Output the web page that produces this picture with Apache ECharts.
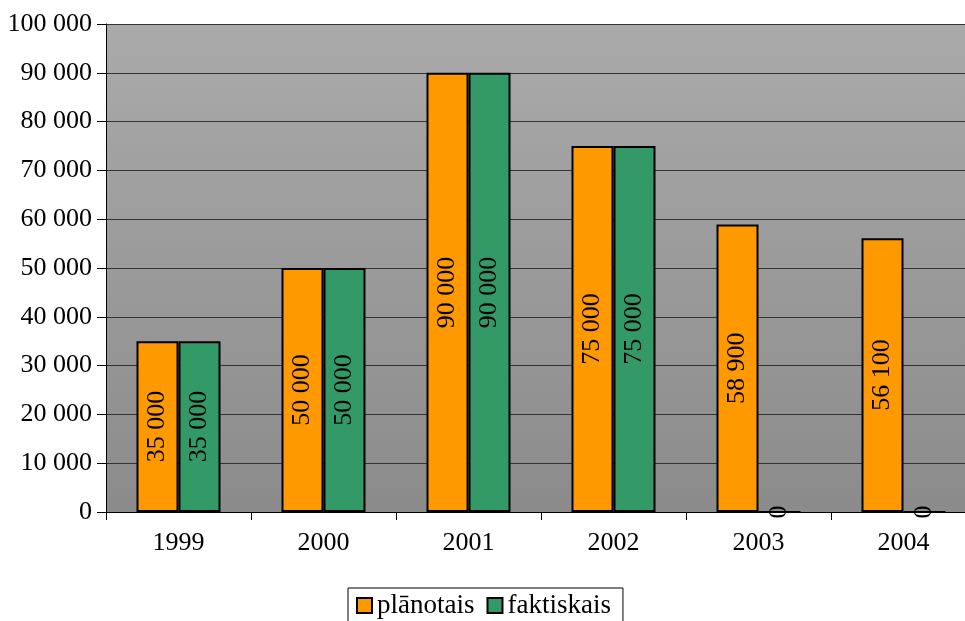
<!DOCTYPE html>
<html>
<head>
<meta charset="utf-8">
<script src="https://cdn.jsdelivr.net/npm/echarts@6/dist/echarts.min.js"></script>
<style>html,body{margin:0;padding:0;background:#fff}#c{width:965px;height:621px}</style>
</head>
<body>
<div id="c"></div>
<script>
var categories = ['1999', '2000', '2001', '2002', '2003', '2004'];
var planotais = [35000, 50000, 90000, 75000, 58900, 56100];
var faktiskais = [35000, 50000, 90000, 75000, 0, 0];
var seriesNames = ['plānotais', 'faktiskais'];

function fmt(v) {
  return String(v).replace(/\B(?=(\d{3})+(?!\d))/g, ' ');
}
var FONT = 'Liberation Serif';
var FS = 26;
var chart = echarts.init(document.getElementById('c'), null, {renderer: 'canvas'});
var labelCfg = {
  show: true, position: 'inside', rotate: 90, color: '#000',
  fontFamily: FONT, fontSize: FS,
  formatter: function (p) { return fmt(p.value); }
};
chart.setOption({
  animation: false,
  backgroundColor: '#fff',
  textStyle: {fontFamily: FONT},
  grid: {
    left: 106, top: 24, width: 870, bottom: 109,
    outerBoundsMode: 'none', containLabel: false,
    show: true, borderWidth: 0,
    backgroundColor: {
      type: 'linear', x: 0, y: 0, x2: 0, y2: 1,
      colorStops: [{offset: 0, color: '#aaaaaa'}, {offset: 1, color: '#8b8b8b'}]
    }
  },
  legend: {
    data: seriesNames,
    top: 588, left: 348,
    icon: 'rect', itemWidth: 15, itemHeight: 15, itemGap: 12,
    padding: [4, 12, 4, 8],
    borderColor: '#000', borderWidth: 1, backgroundColor: '#fff',
    textStyle: {fontFamily: FONT, fontSize: 27, color: '#000'},
    itemStyle: {borderColor: '#000', borderWidth: 2}
  },
  xAxis: {
    type: 'category', data: categories,
    axisLine: {lineStyle: {color: '#000', width: 1}},
    axisTick: {show: true, alignWithLabel: false, length: 8, lineStyle: {color: '#000'}},
    axisLabel: {fontFamily: FONT, fontSize: FS, color: '#000', margin: 18}
  },
  yAxis: {
    type: 'value', min: 0, max: 100000, interval: 10000,
    axisLine: {show: true, lineStyle: {color: '#000', width: 1}},
    axisTick: {show: true, length: 9, lineStyle: {color: '#000'}},
    axisLabel: {fontFamily: FONT, fontSize: FS, color: '#000', margin: 14,
      formatter: function (v) { return fmt(v); }},
    splitLine: {show: true, lineStyle: {color: '#333', width: 1}}
  },
  series: [
    {
      name: seriesNames[0], type: 'bar', data: planotais,
      barWidth: 42, barGap: '0%',
      itemStyle: {color: '#ff9900', borderColor: '#000', borderWidth: 2},
      label: labelCfg
    },
    {
      name: seriesNames[1], type: 'bar', data: faktiskais,
      barWidth: 42, barGap: '0%',
      itemStyle: {color: '#339966', borderColor: '#000', borderWidth: 2},
      label: labelCfg
    }
  ]
});
</script>
</body>
</html>
